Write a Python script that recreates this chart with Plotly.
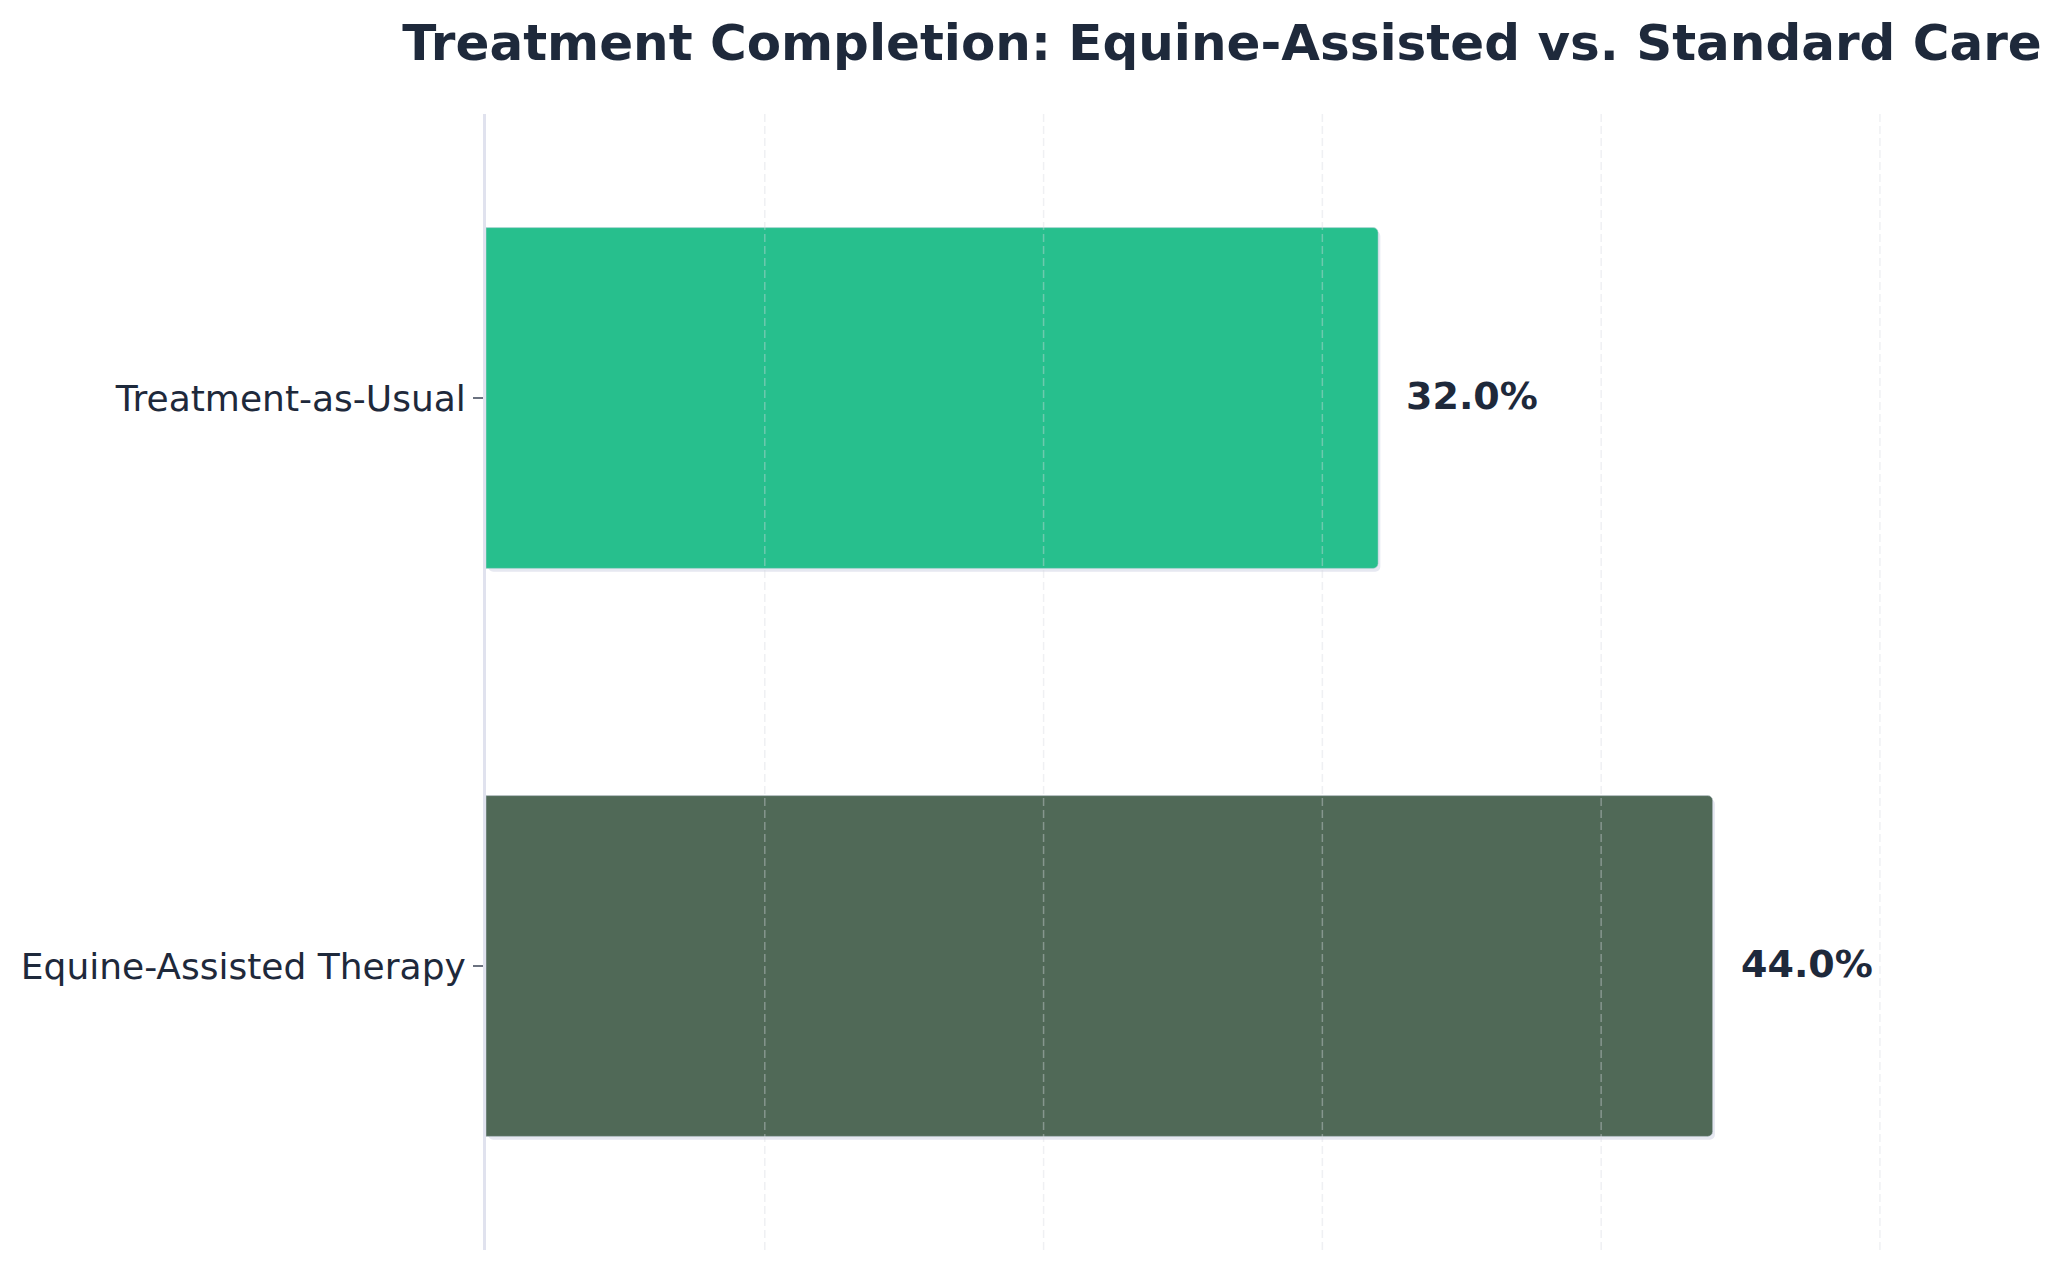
import plotly.graph_objects as go

# Data
categories = ["Equine-Assisted Therapy", "Treatment-as-Usual"]
completion_rates = [44.0, 32.0]
bar_colors = ["#506957", "#27bf8d"]
value_labels = [f"{v:.1f}%" for v in completion_rates]
x_max = max(completion_rates) * 1.2
grid_ticks = [10, 20, 30, 40, 50]

TEXT = "#1e293b"
FONT = "DejaVu Sans"

fig = go.Figure()
# soft shadow behind the bars
fig.add_trace(go.Bar(
    x=completion_rates,
    y=categories,
    orientation="h",
    width=0.6,
    offset=-0.306,
    base=0.08,
    marker=dict(color="#e6e8f1", cornerradius=5, line=dict(width=0)),
    hoverinfo="skip",
    showlegend=False,
))
fig.add_trace(go.Bar(
    x=completion_rates,
    y=categories,
    orientation="h",
    width=0.6,
    offset=-0.3,
    marker=dict(color=bar_colors, cornerradius=5,
                line=dict(color="rgba(203,213,225,0.5)", width=1)),
    hoverinfo="skip",
    showlegend=False,
))

for cat, val, lab in zip(categories, completion_rates, value_labels):
    fig.add_annotation(
        x=val, y=cat, text=f"<b>{lab}</b>", showarrow=False,
        xanchor="left", yanchor="middle", xshift=26, yshift=2,
        font=dict(family=FONT, size=38, color=TEXT),
    )

# dashed vertical grid drawn above the bars
for gx in grid_ticks:
    fig.add_vline(x=gx, layer="above",
                  line=dict(color="rgba(215,217,225,0.4)", width=1.5, dash="8px,4px"))

fig.update_layout(
    width=2063, height=1268,
    margin=dict(l=478, r=113, t=106, b=26, autoexpand=False),
    paper_bgcolor="white", plot_bgcolor="white",
    font=dict(family=FONT, color=TEXT),
    title=dict(
        text="<b>Treatment Completion: Equine-Assisted vs. Standard Care</b>",
        x=0.5, xref="paper", xanchor="center",
        y=1 - 34 / 1268, yref="container", yanchor="middle",
        font=dict(family=FONT, size=50, color=TEXT),
    ),
    barmode="overlay",
)

fig.update_xaxes(
    range=[0, x_max], dtick=10, tick0=0,
    showticklabels=False, ticks="",
    showgrid=False,
    zeroline=False, showline=False,
)
fig.update_yaxes(
    range=[-0.5, 1.5], automargin=False,
    showgrid=False, zeroline=False,
    showline=True, linecolor="#e0e2ee", linewidth=3,
    ticks="outside", ticklen=10, tickwidth=1.5, tickcolor="#6b7280",
    ticklabelstandoff=0,
    tickfont=dict(family=FONT, size=36, color=TEXT),
)

fig.write_html("out.html")
